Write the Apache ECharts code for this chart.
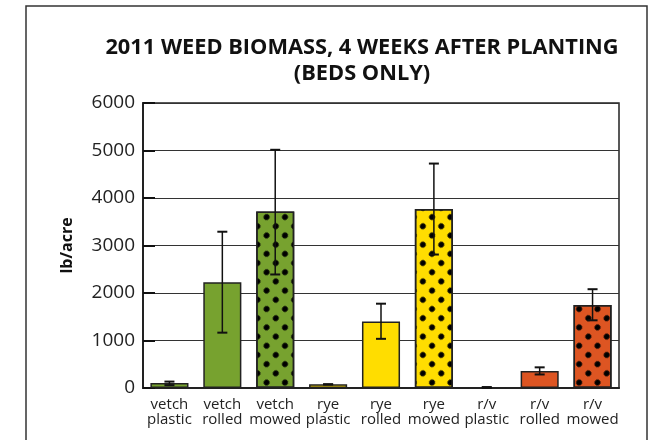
<!DOCTYPE html>
<html>
<head>
<meta charset="utf-8">
<script src="https://cdn.jsdelivr.net/npm/echarts@6/dist/echarts.min.js"></script>
<style>
  html, body { margin: 0; padding: 0; background: #fff; }
  #chart { width: 654px; height: 440px; }
</style>
</head>
<body>
<div id="chart"></div>
<script>
// data
var categories = ['vetch\nplastic', 'vetch\nrolled', 'vetch\nmowed', 'rye\nplastic', 'rye\nrolled', 'rye\nmowed', 'r/v\nplastic', 'r/v\nrolled', 'r/v\nmowed'];
var means = [105, 2225, 3715, 77, 1400, 3770, 12, 360, 1750];
var errLow = [60, 1165, 2390, 77, 1035, 2810, 5, 285, 1425];
var errHigh = [135, 3290, 5015, 77, 1775, 4725, 20, 435, 2080];
var barColors = ['#77A22F', '#77A22F', '#77A22F', '#FFDD00', '#FFDD00', '#FFDD00', '#DD5522', '#DD5522', '#DD5522'];
var dotted = [false, false, true, false, false, true, false, false, true];
var yTicks = [0, 1000, 2000, 3000, 4000, 5000, 6000];

var font = '"Open Sans", "Noto Sans", sans-serif';

// staggered dots: square grid turned 45 degrees
var dotDecal = {
  symbol: 'circle',
  symbolSize: 0.72,
  color: '#000',
  dashArrayX: [8, 5],
  dashArrayY: [8, 5],
  rotation: Math.PI / 4
};

var barData = means.map(function (v, i) {
  var item = {
    value: v,
    itemStyle: { color: barColors[i] }
  };
  if (dotted[i]) item.itemStyle.decal = dotDecal;
  return item;
});

var errData = means.map(function (v, i) {
  return [i, errLow[i], errHigh[i]];
});

var chart = echarts.init(document.getElementById('chart'));
chart.setOption({
  animation: false,
  title: {
    text: '2011 WEED BIOMASS, 4 WEEKS AFTER PLANTING\n(BEDS ONLY)',
    left: 357,
    top: 30,
    textAlign: 'center',
    textStyle: {
      fontFamily: font,
      fontWeight: 'bold',
      fontSize: 21.8,
      lineHeight: 26,
      color: '#111'
    }
  },
  graphic: [{
    type: 'rect',
    shape: { x: 26, y: 6, width: 621, height: 460 },
    style: { fill: 'none', stroke: '#333', lineWidth: 1.5 },
    silent: true,
    z: -1
  }],
  grid: {
    left: 143,
    right: 35,
    top: 103,
    bottom: 52,
    show: true,
    borderColor: '#222',
    borderWidth: 1.5
  },
  xAxis: {
    type: 'category',
    data: categories,
    axisLine: { lineStyle: { color: '#222', width: 2 } },
    axisTick: { show: false },
    axisLabel: {
      interval: 0,
      margin: 9,
      fontFamily: font,
      fontSize: 15,
      lineHeight: 15,
      color: '#222'
    }
  },
  yAxis: {
    type: 'value',
    min: 0,
    max: 6000,
    interval: 1000,
    name: 'lb/acre',
    nameLocation: 'middle',
    nameGap: 68,
    nameTextStyle: {
      fontFamily: font,
      fontWeight: 'bold',
      fontSize: 16,
      color: '#111'
    },
    axisLine: { show: true, lineStyle: { color: '#222', width: 2 } },
    axisTick: { show: true, inside: true, length: 12, lineStyle: { color: '#111', width: 2 } },
    splitLine: { lineStyle: { color: '#333', width: 1.2 } },
    axisLabel: {
      margin: 8,
      fontFamily: font,
      fontSize: 19,
      color: '#222',
      formatter: function (v) { return yTicks.indexOf(v) >= 0 ? String(v) : ''; }
    }
  },
  series: [{
    type: 'bar',
    data: barData,
    barWidth: '72%',
    itemStyle: { borderColor: '#222', borderWidth: 1.5 }
  }, {
    type: 'custom',
    data: errData,
    z: 10,
    renderItem: function (params, api) {
      var x = api.value(0);
      var lo = api.coord([x, api.value(1)]);
      var hi = api.coord([x, api.value(2)]);
      var w = 5;
      var st = { stroke: '#111', lineWidth: 1.5 };
      return {
        type: 'group',
        children: [
          { type: 'line', shape: { x1: lo[0], y1: lo[1], x2: hi[0], y2: hi[1] }, style: st },
          { type: 'line', shape: { x1: hi[0] - w, y1: hi[1], x2: hi[0] + w, y2: hi[1] }, style: { stroke: '#111', lineWidth: 2 } },
          { type: 'line', shape: { x1: lo[0] - w, y1: lo[1], x2: lo[0] + w, y2: lo[1] }, style: { stroke: '#111', lineWidth: 2 } }
        ]
      };
    }
  }]
});
window.onresize = chart.resize;
</script>
</body>
</html>
